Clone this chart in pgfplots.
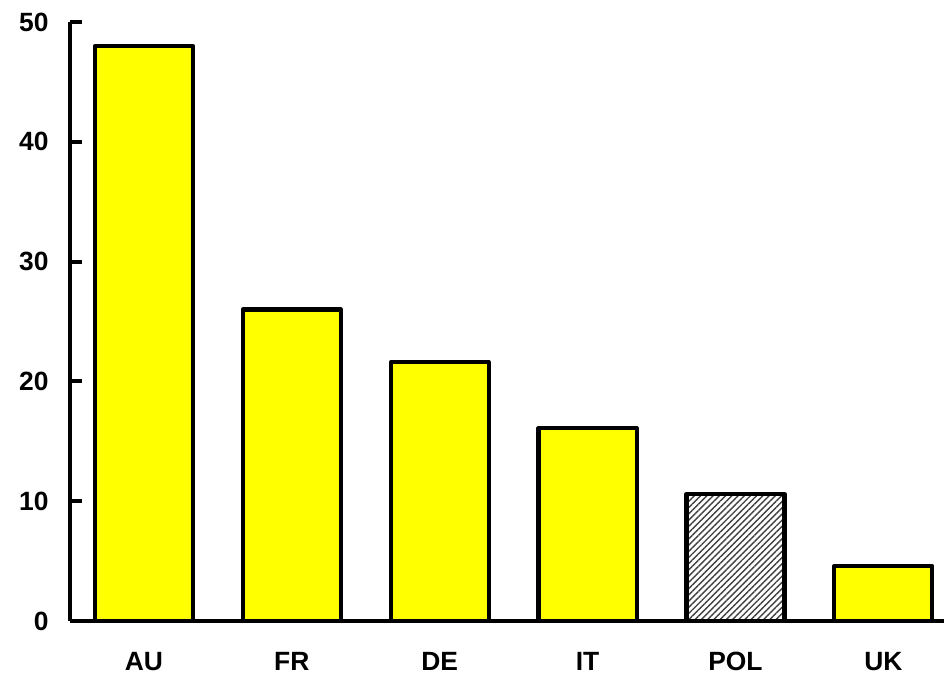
\documentclass[border=0pt]{standalone}
\usepackage{fontspec}
\setmainfont{Liberation Sans}
\usepackage{pgfplots}
\pgfplotsset{compat=1.18}
\usetikzlibrary{patterns.meta}
\definecolor{baryellow}{RGB}{255,255,0}
\begin{document}
\begin{tikzpicture}
\begin{axis}[width=437pt, height=299.5pt, scale only axis,
 xmin=-0.5, xmax=5.41, ymin=0, ymax=50,
 axis x line*=bottom, axis y line*=left,
 axis line style={line width=2pt, -},
 xtick={0,...,5}, xticklabels={AU,FR,DE,IT,POL,UK},
 x tick style={draw=none},
 ytick={0,10,...,50},
 y tick style={line width=2pt, black},
 tick align=inside, major tick length=6pt,
 xticklabel style={font=\fontsize{13.2}{13.2}\selectfont\bfseries, yshift=-12pt},
 yticklabel style={font=\fontsize{13.2}{13.2}\selectfont\bfseries, xshift=-7.2pt},
 /pgf/number format/assume math mode=true,
 clip=false]
\addplot[ybar, bar width=49pt, bar shift=0pt, fill=baryellow, draw=black, line width=2.1pt, line join=round]
 coordinates {(0,48) (1,26) (2,21.6) (3,16.1) (5,4.6)};
\addplot[ybar, bar width=49pt, bar shift=0pt, draw=black, line width=2.1pt, line join=round,
 pattern={Lines[angle=45,distance=2.2pt,line width=0.7pt]}, pattern color=black!75]
 coordinates {(4,10.6)};
\coordinate (o) at (rel axis cs:0,0);
\end{axis}
\pgfresetboundingbox
\path[use as bounding box] ([shift={(-35pt,-29.5pt)}]o) rectangle ([shift={(437pt,310.5pt)}]o);
\end{tikzpicture}
\end{document}
